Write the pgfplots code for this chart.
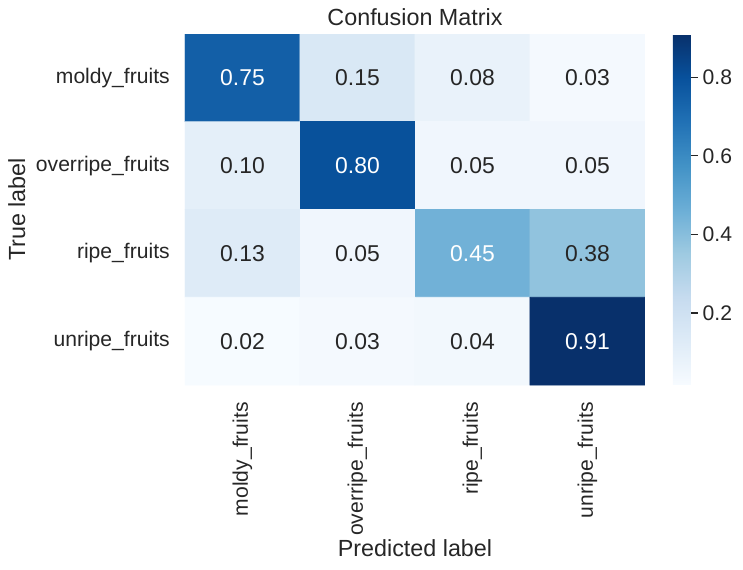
\documentclass[border=0pt]{standalone}
\usepackage{fontspec}
\setmainfont{Liberation Sans}
\usepackage{pgfplots}
\pgfplotsset{compat=1.18}
\definecolor{sbtext}{HTML}{262626}

\pgfplotstableread{
x y c
0 0 0.75
1 0 0.15
2 0 0.08
3 0 0.03
0 1 0.10
1 1 0.80
2 1 0.05
3 1 0.05
0 2 0.13
1 2 0.05
2 2 0.45
3 2 0.38
0 3 0.02
1 3 0.03
2 3 0.04
3 3 0.91
}\cmvalues

% labels drawn in white (dark cells)
\pgfplotstableread{
x y t
0 0 0.75
1 1 0.80
2 2 0.45
3 3 0.91
}\lightlabels

% labels drawn in dark grey (light cells)
\pgfplotstableread{
x y t
1 0 0.15
2 0 0.08
3 0 0.03
0 1 0.10
2 1 0.05
3 1 0.05
0 2 0.13
1 2 0.05
3 2 0.38
0 3 0.02
1 3 0.03
2 3 0.04
}\darklabels

\begin{document}
\begin{tikzpicture}
\useasboundingbox (-133.2pt,-132.48pt) rectangle (401.76pt,277.2pt);
\begin{axis}[
  scale only axis,
  width=331.2pt, height=252.72pt,
  xmin=-0.5, xmax=3.5, ymin=-0.5, ymax=3.5,
  y dir=reverse,
  axis line style={draw=none},
  major tick length=0pt,
  xtick={0,1,2,3}, ytick={0,1,2,3},
  xticklabels={moldy\_fruits, overripe\_fruits, ripe\_fruits, unripe\_fruits},
  yticklabels={moldy\_fruits, overripe\_fruits, ripe\_fruits, unripe\_fruits},
  xticklabel style={font=\fontsize{15.2}{18}\selectfont, text=sbtext, inner sep=0pt,
    yshift=-12.2pt, rotate=90, anchor=east},
  yticklabel style={font=\fontsize{15.2}{18}\selectfont, text=sbtext, inner sep=0pt,
    anchor=east, xshift=-10.8pt},
  title={Confusion Matrix},
  title style={font=\fontsize{16.8}{20}\selectfont, text=sbtext, inner sep=0pt,
    at={(axis description cs:0.5,1)}, anchor=base, yshift=-0.2pt},
  xlabel={Predicted label},
  xlabel style={font=\fontsize{16.8}{20}\selectfont, text=sbtext, inner sep=0pt,
    at={(axis description cs:0.5,0)}, anchor=base, yshift=-123.5pt},
  ylabel={True label},
  ylabel style={font=\fontsize{16.8}{20}\selectfont, text=sbtext, inner sep=0pt,
    at={(axis description cs:-0.3478,0.5)}, anchor=base},
  colormap={blues}{rgb255=(247,251,255) rgb255=(222,235,247) rgb255=(198,219,239)
    rgb255=(158,202,225) rgb255=(107,174,214) rgb255=(66,146,198)
    rgb255=(33,113,181) rgb255=(8,81,156) rgb255=(8,48,107)},
  point meta min=0.017, point meta max=0.91,
  colorbar,
  colorbar style={
    width=12.96pt,
    at={(parent axis.north east)}, anchor=north west, xshift=11.52pt,
    ytick={0.2,0.4,0.6,0.8},
    axis line style={draw=none},
    major tick length=5pt,
    tick align=outside,
    ytick pos=right,
    tick style={color=sbtext, line width=0.9pt},
    yticklabel style={font=\fontsize{15.2}{18}\selectfont, text=sbtext,
      /pgf/number format/assume math mode=true},
  },
]
\addplot[matrix plot*, mesh/cols=4, point meta=explicit, draw=none]
  table[x=x, y=y, meta=c] {\cmvalues};
\addplot[only marks, mark=none, nodes near coords, point meta=explicit symbolic,
  nodes near coords style={anchor=center, text=white,
    font=\fontsize{16.5}{20}\selectfont}]
  table[x=x, y=y, meta=t] {\lightlabels};
\addplot[only marks, mark=none, nodes near coords, point meta=explicit symbolic,
  nodes near coords style={anchor=center, text=sbtext,
    font=\fontsize{16.5}{20}\selectfont}]
  table[x=x, y=y, meta=t] {\darklabels};
\end{axis}
\end{tikzpicture}
\end{document}
